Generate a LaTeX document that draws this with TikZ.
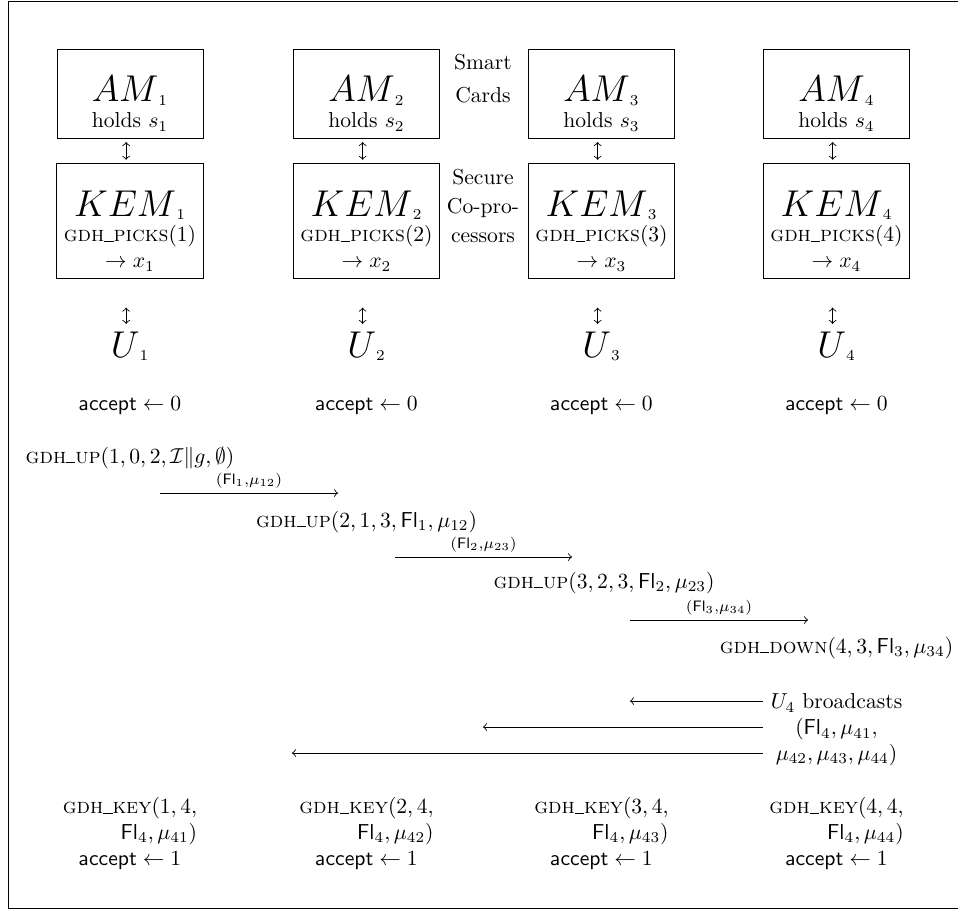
\documentclass[tikz,border=0pt]{standalone}
\usepackage{amsmath}
\usepackage{amsfonts}
\usepackage{xcolor}
\usepackage{tikz}
\usetikzlibrary{positioning,arrows}

\newcommand{\lowbar}{\rule{0.42em}{0.4pt}}

\begin{document}
\begin{tikzpicture}[x=0.463pt,y=-0.463pt,
    box/.style={draw=black,minimum width=67.6pt,align=center},
    msg/.style={midway,above,inner sep=2pt}]
  \useasboundingbox (0,0) rectangle (958,912);
  \path[draw=black] (958,1) -- (8,1) -- (8,908) -- (958,908);
  % smart cards and co-processors
  \node[box,anchor=north] (am1) at (130,49) {{\LARGE\rule{0pt}{21pt}$AM$}$_1$\\holds $s_1$};
  \node[box,anchor=north] (am2) at (366.5,49) {{\LARGE\rule{0pt}{21pt}$AM$}$_2$\\holds $s_2$};
  \node[box,anchor=north] (am3) at (601.5,49) {{\LARGE\rule{0pt}{21pt}$AM$}$_3$\\holds $s_3$};
  \node[box,anchor=north] (am4) at (836.5,49) {{\LARGE\rule{0pt}{21pt}$AM$}$_4$\\holds $s_4$};
  \node[box,anchor=north] (kem1) at (130,163) {{\LARGE\rule{0pt}{21pt}$KEM$}$_1$\\\textsc{gdh\lowbar picks}$(1)$\\$\rightarrow x_1$};
  \node[box,anchor=north] (kem2) at (366.5,163) {{\LARGE\rule{0pt}{21pt}$KEM$}$_2$\\\textsc{gdh\lowbar picks}$(2)$\\$\rightarrow x_2$};
  \node[box,anchor=north] (kem3) at (601.5,163) {{\LARGE\rule{0pt}{21pt}$KEM$}$_3$\\\textsc{gdh\lowbar picks}$(3)$\\$\rightarrow x_3$};
  \node[box,anchor=north] (kem4) at (836.5,163) {{\LARGE\rule{0pt}{21pt}$KEM$}$_4$\\\textsc{gdh\lowbar picks}$(4)$\\$\rightarrow x_4$};
  \node[align=center] (cards) at (483,79) {Smart\\[3.3pt]Cards};
  \node[align=center] (copro) at (483,206) {Secure\\[1.6pt]Co-pro-\\[1.6pt]cessors};
  % users
  \node[anchor=base] (u1) at (130,357) {{\LARGE $U$}$_1$};
  \node[anchor=base] (u2) at (366.5,357) {{\LARGE $U$}$_2$};
  \node[anchor=base] (u3) at (601.5,357) {{\LARGE $U$}$_3$};
  \node[anchor=base] (u4) at (836.5,357) {{\LARGE $U$}$_4$};
  \path[draw=black,<->,shorten <=1.5pt,shorten >=1.5pt] ([xshift=-1.8pt]am1.south) -- ([xshift=-1.8pt]kem1.north);
  \path[draw=black,<->,shorten <=1.5pt,shorten >=1.5pt] ([xshift=-1.8pt]am2.south) -- ([xshift=-1.8pt]kem2.north);
  \path[draw=black,<->,shorten <=1.5pt,shorten >=1.5pt] ([xshift=-1.8pt]am3.south) -- ([xshift=-1.8pt]kem3.north);
  \path[draw=black,<->,shorten <=1.5pt,shorten >=1.5pt] ([xshift=-1.8pt]am4.south) -- ([xshift=-1.8pt]kem4.north);
  \path[draw=black,<->,shorten <=13.4pt] ([xshift=-1.8pt]kem1.south) -- ([xshift=-1.8pt]u1.north);
  \path[draw=black,<->,shorten <=13.4pt] ([xshift=-1.8pt]kem2.south) -- ([xshift=-1.8pt]u2.north);
  \path[draw=black,<->,shorten <=13.4pt] ([xshift=-1.8pt]kem3.south) -- ([xshift=-1.8pt]u3.north);
  \path[draw=black,<->,shorten <=13.4pt] ([xshift=-1.8pt]kem4.south) -- ([xshift=-1.8pt]u4.north);
  \node[anchor=base] (acc1) at (130,410) {$\mathsf{accept}\leftarrow 0$};
  \node[anchor=base] (acc2) at (366.5,410) {$\mathsf{accept}\leftarrow 0$};
  \node[anchor=base] (acc3) at (601.5,410) {$\mathsf{accept}\leftarrow 0$};
  \node[anchor=base] (acc4) at (836.5,410) {$\mathsf{accept}\leftarrow 0$};
  % up flow
  \node[anchor=base] (up1) at (130,463) {\textsc{gdh\lowbar up}$(1,0,2,\mathcal{I}\|g,\emptyset)$};
  \node[anchor=base] (up2) at (366.5,527) {\textsc{gdh\lowbar up}$(2,1,3,\mathsf{Fl}_1,\mu_{12})$};
  \node[anchor=base] (up3) at (604,588) {\textsc{gdh\lowbar up}$(3,2,3,\mathsf{Fl}_2,\mu_{23})$};
  \node[anchor=base] (down4) at (836.5,653) {\textsc{gdh\lowbar down}$(4,3,\mathsf{Fl}_3,\mu_{34})$};
  \coordinate (m1s) at (160,493);
  \coordinate (m1e) at (338,493);
  \coordinate (m2s) at (395,557);
  \coordinate (m2e) at (572,557);
  \coordinate (m3s) at (630,620);
  \coordinate (m3e) at (808,620);
  \path[draw=black,->] (m1s) -- (m1e) node[msg] {$\scriptstyle(\mathsf{Fl}_1,\mu_{12})$};
  \path[draw=black,->] (m2s) -- (m2e) node[msg] {$\scriptstyle(\mathsf{Fl}_2,\mu_{23})$};
  \path[draw=black,->] (m3s) -- (m3e) node[msg] {$\scriptstyle(\mathsf{Fl}_3,\mu_{34})$};
  % broadcast
  \node[align=center] (bcast) at (836.5,730) {$U_4$ broadcasts\\$(\mathsf{Fl}_4,\mu_{41},$\\$\mu_{42},\mu_{43},\mu_{44})$};
  \coordinate (to3) at (630,701);
  \coordinate (to2) at (483,727);
  \coordinate (to1) at (292,753);
  \path[draw=black,->] (bcast.west |- to3) -- (to3);
  \path[draw=black,->] (bcast.west |- to2) -- (to2);
  \path[draw=black,->] (bcast.west |- to1) -- (to1);
  % keys
  \node[align=right,anchor=north,inner sep=0pt] (key1) at (130,797) {\textsc{gdh\lowbar key}$(1,4,$\\$\mathsf{Fl}_4,\mu_{41})$};
  \node[align=right,anchor=north,inner sep=0pt] (key2) at (366.5,797) {\textsc{gdh\lowbar key}$(2,4,$\\$\mathsf{Fl}_4,\mu_{42})$};
  \node[align=right,anchor=north,inner sep=0pt] (key3) at (601.5,797) {\textsc{gdh\lowbar key}$(3,4,$\\$\mathsf{Fl}_4,\mu_{43})$};
  \node[align=right,anchor=north,inner sep=0pt] (key4) at (836.5,797) {\textsc{gdh\lowbar key}$(4,4,$\\$\mathsf{Fl}_4,\mu_{44})$};
  \node[anchor=base,inner sep=0pt] (fin1) at (130,865) {$\mathsf{accept}\leftarrow 1$};
  \node[anchor=base,inner sep=0pt] (fin2) at (366.5,865) {$\mathsf{accept}\leftarrow 1$};
  \node[anchor=base,inner sep=0pt] (fin3) at (601.5,865) {$\mathsf{accept}\leftarrow 1$};
  \node[anchor=base,inner sep=0pt] (fin4) at (836.5,865) {$\mathsf{accept}\leftarrow 1$};
\end{tikzpicture}
\end{document}
